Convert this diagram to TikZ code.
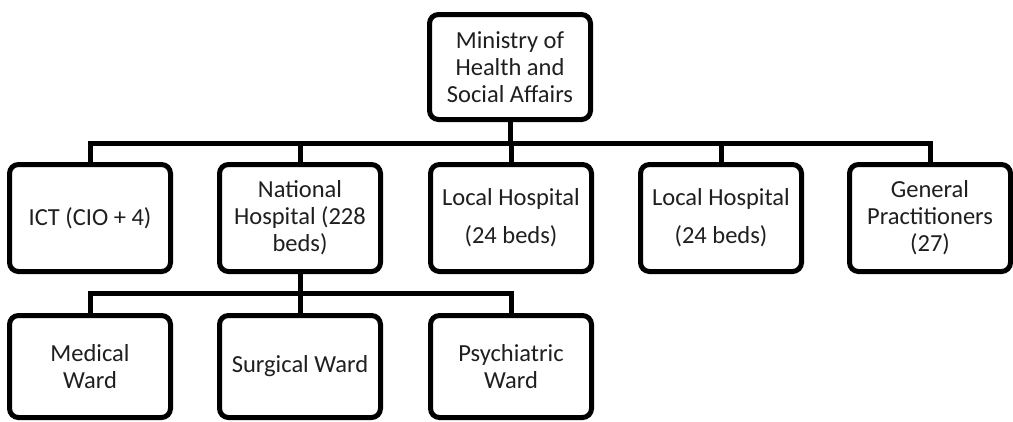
\documentclass[tikz,border=0pt]{standalone}
\usepackage{fontspec}
\setmainfont{Carlito}
\begin{document}
\begin{tikzpicture}[x=1pt,y=-1pt,
  orgbox/.style={draw=black, line width=5pt, rounded corners=9pt, fill=white,
    minimum width=161pt, minimum height=107pt, inner sep=0pt, align=center,
    text=black!88, font=\fontsize{24.5pt}{27pt}\selectfont},
  lowbox/.style={orgbox, minimum height=102pt},
  link/.style={draw=black, line width=5pt}]
\useasboundingbox (0,0) rectangle (1013,421);
\node[orgbox, minimum height=105pt] (top) at (510,67) {Ministry of\\Health and\\Social Affairs};
\node[orgbox] (ict) at (90,218) {ICT (CIO + 4)};
\node[orgbox] (nh) at (300,218) {National\\Hospital (228\\beds)};
\node[orgbox] (lh1) at (511,218) {Local Hospital\\[11pt](24 beds)};
\node[orgbox] (lh2) at (721,218) {Local Hospital\\[11pt](24 beds)};
\node[orgbox] (gp) at (930,218) {General\\Practitioners\\(27)};
\node[lowbox] (med) at (90,366.5) {Medical\\Ward};
\node[lowbox] (sur) at (300,366.5) {Surgical Ward};
\node[lowbox] (psy) at (511,366.5) {Psychiatric\\Ward};
\coordinate (bus1) at (511,143);
\coordinate (bus2) at (300,293);
\draw[link] (ict.north) -- (ict.north |- bus1) -- (gp.north |- bus1) -- (gp.north);
\draw[link] (top.south) -- (top.south |- bus1);
\draw[link] (nh.north) -- (nh.north |- bus1);
\draw[link] (lh1.north) -- (lh1.north |- bus1);
\draw[link] (lh2.north) -- (lh2.north |- bus1);
\draw[link] (med.north) -- (med.north |- bus2) -- (psy.north |- bus2) -- (psy.north);
\draw[link] (nh.south) -- (sur.north);
\end{tikzpicture}
\end{document}
